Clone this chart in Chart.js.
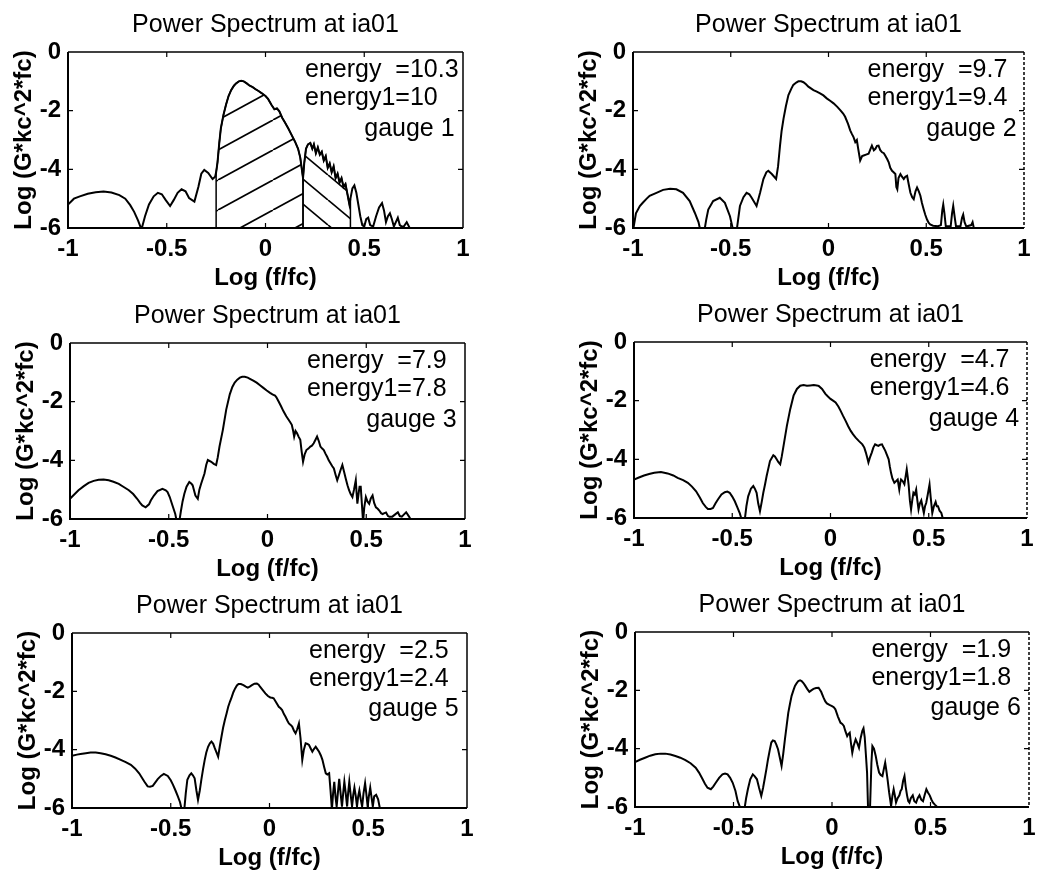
<!DOCTYPE html>
<html>
<head>
<meta charset="utf-8">
<script src="https://cdn.jsdelivr.net/npm/chart.js@4/dist/chart.umd.min.js"></script>
<style>
html,body{margin:0;padding:0;background:#fff;width:1045px;height:888px;overflow:hidden;}
canvas{position:absolute;}
</style>
</head>
<body>
<script>
// ---------- text ----------
const titleText = 'Power Spectrum at ia01';
const xAxisTitle = 'Log (f/fc)';
const yAxisTitle = 'Log (G*kc^2*fc)';
const xTicks = [-1, -0.5, 0, 0.5, 1];
const yTicks = [-6, -4, -2, 0];
const energyLabels = ['energy  =10.3', 'energy  =9.7', 'energy  =7.9', 'energy  =4.7', 'energy  =2.5', 'energy  =1.9'];
const energy1Labels = ['energy1=10', 'energy1=9.4', 'energy1=7.8', 'energy1=4.6', 'energy1=2.4', 'energy1=1.8'];
const gaugeLabels = ['gauge 1', 'gauge 2', 'gauge 3', 'gauge 4', 'gauge 5', 'gauge 6'];

// ---------- data: log(f/fc) and log spectrum ----------
const x1 = [-1.0,-0.97,-0.94,-0.90,-0.86,-0.82,-0.78,-0.74,-0.71,-0.685,
-0.665,-0.645,-0.628,-0.61,-0.59,-0.566,-0.545,-0.525,-0.505,-0.483,
-0.465,-0.445,-0.425,-0.405,-0.387,-0.36,-0.34,-0.325,-0.31,-0.29,
-0.268,-0.255,-0.25,-0.243,-0.234,-0.226,-0.213,-0.2,-0.187,-0.174,
-0.16,-0.149,-0.135,-0.123,-0.11,-0.095,-0.08,-0.065,-0.05,-0.035,
-0.02,0.0,0.013,0.03,0.045,0.058,0.07,0.085,0.1,0.115,
0.13,0.149,0.165,0.176,0.183,0.19,0.196,0.205,0.215,0.227,
0.237,0.245,0.255,0.265,0.275,0.285,0.295,0.305,0.315,0.325,
0.335,0.345,0.355,0.365,0.375,0.385,0.395,0.405,0.415,0.425,
0.43,0.44,0.45,0.46,0.47,0.48,0.49,0.5,0.51,0.52,
0.53,0.545,0.56,0.575,0.59,0.6,0.61,0.62,0.63,0.64,
0.65,0.66,0.67,0.68,0.69,0.7,0.715,0.73,0.75,1.0];
const y1 = [-5.2,-5.0,-4.92,-4.83,-4.78,-4.76,-4.79,-4.88,-5.0,-5.22,
-5.45,-5.75,-6.05,-5.6,-5.2,-4.92,-4.8,-4.85,-5.05,-5.25,
-5.05,-4.8,-4.68,-4.75,-4.98,-5.1,-4.6,-4.15,-4.02,-4.12,
-4.33,-4.25,-4.1,-3.76,-3.1,-2.6,-2.15,-1.8,-1.5,-1.3,
-1.15,-1.07,-1.0,-0.98,-1.0,-1.07,-1.15,-1.2,-1.27,-1.33,
-1.4,-1.5,-1.6,-1.8,-1.95,-1.92,-2.02,-2.25,-2.42,-2.6,
-2.8,-3.05,-3.3,-3.6,-3.95,-4.3,-3.8,-3.3,-3.15,-3.1,
-3.3,-3.15,-3.45,-3.25,-3.5,-3.4,-3.7,-3.55,-3.95,-3.8,
-4.1,-3.9,-4.3,-4.15,-4.45,-4.3,-4.6,-4.5,-4.85,-5.2,
-5.0,-4.65,-4.55,-4.8,-5.2,-5.6,-5.9,-5.95,-5.7,-5.65,
-5.9,-5.95,-5.6,-5.3,-5.15,-5.4,-5.8,-5.6,-5.5,-5.7,
-5.95,-5.8,-5.65,-5.9,-5.95,-5.95,-5.8,-6.0,-6.05,-6.05];
const hatchBounds1 = [-0.25, 0.19, 0.43];

const x2 = [-1.0,-0.985,-0.965,-0.95,-0.93,-0.915,-0.88,-0.846,-0.81,-0.778,
-0.744,-0.71,-0.684,-0.665,-0.655,-0.635,-0.625,-0.615,-0.59,-0.556,
-0.53,-0.504,-0.487,-0.47,-0.453,-0.435,-0.419,-0.405,-0.393,-0.368,
-0.35,-0.333,-0.318,-0.308,-0.29,-0.268,-0.258,-0.248,-0.24,-0.23,
-0.218,-0.205,-0.19,-0.18,-0.165,-0.154,-0.14,-0.128,-0.115,-0.103,
-0.09,-0.077,-0.06,-0.043,-0.026,-0.009,0.01,0.026,0.045,0.06,
0.075,0.085,0.1,0.111,0.12,0.128,0.137,0.145,0.152,0.162,
0.172,0.18,0.192,0.205,0.215,0.222,0.232,0.24,0.248,0.256,
0.265,0.274,0.283,0.29,0.3,0.308,0.316,0.325,0.333,0.342,
0.347,0.352,0.358,0.368,0.376,0.385,0.393,0.402,0.41,0.419,
0.428,0.436,0.445,0.453,0.462,0.47,0.478,0.487,0.495,0.504,
0.512,0.52,0.535,0.56,0.575,0.582,0.587,0.593,0.6,0.625,
0.632,0.638,0.645,0.652,0.675,0.683,0.689,0.696,0.705,0.73,
0.737,0.745,1.0];
const y2 = [-6.1,-5.5,-5.25,-5.14,-5.0,-4.9,-4.8,-4.7,-4.66,-4.68,
-4.8,-5.08,-5.48,-5.8,-6.1,-6.1,-5.7,-5.37,-5.08,-4.97,
-5.14,-5.6,-6.1,-6.1,-5.25,-4.95,-4.8,-4.85,-4.97,-5.25,
-4.8,-4.33,-4.1,-4.05,-4.16,-4.33,-3.9,-3.19,-2.7,-2.27,
-1.85,-1.47,-1.25,-1.12,-1.04,-1.0,-1.0,-1.03,-1.1,-1.18,
-1.24,-1.3,-1.35,-1.41,-1.48,-1.58,-1.67,-1.75,-1.87,-1.98,
-2.1,-2.21,-2.45,-2.67,-2.8,-2.9,-3.07,-3.0,-3.3,-3.7,
-3.55,-3.53,-3.5,-3.47,-3.3,-3.19,-3.35,-3.3,-3.2,-3.19,
-3.35,-3.42,-3.45,-3.53,-3.65,-3.76,-3.95,-4.05,-4.1,-4.16,
-4.6,-4.68,-4.3,-4.16,-4.25,-4.33,-4.25,-4.22,-4.5,-4.8,
-4.95,-5.02,-4.75,-4.62,-4.75,-4.9,-5.15,-5.37,-5.55,-5.71,
-5.82,-5.88,-5.92,-5.94,-5.9,-5.4,-5.2,-5.5,-5.94,-5.94,
-5.5,-5.25,-5.6,-5.94,-5.94,-5.65,-5.54,-5.8,-5.95,-5.9,
-5.8,-6.05,-6.05];

const x3 = [-1.0,-0.957,-0.93,-0.906,-0.88,-0.855,-0.83,-0.804,-0.78,-0.753,
-0.73,-0.702,-0.68,-0.66,-0.645,-0.634,-0.617,-0.6,-0.591,-0.575,
-0.557,-0.532,-0.515,-0.506,-0.495,-0.484,-0.467,-0.459,-0.447,-0.438,
-0.43,-0.421,-0.41,-0.396,-0.385,-0.379,-0.365,-0.353,-0.345,-0.336,
-0.319,-0.31,-0.302,-0.285,-0.272,-0.26,-0.252,-0.243,-0.226,-0.209,
-0.191,-0.178,-0.166,-0.153,-0.14,-0.128,-0.115,-0.1,-0.089,-0.072,
-0.055,-0.038,-0.021,-0.004,0.013,0.025,0.038,0.045,0.055,0.068,
0.081,0.095,0.106,0.115,0.123,0.13,0.135,0.142,0.149,0.158,
0.166,0.173,0.18,0.188,0.197,0.207,0.217,0.225,0.234,0.243,
0.251,0.26,0.268,0.277,0.285,0.294,0.302,0.31,0.319,0.328,
0.336,0.345,0.353,0.362,0.37,0.379,0.388,0.396,0.405,0.413,
0.421,0.43,0.438,0.447,0.451,0.455,0.462,0.466,0.472,0.478,
0.484,0.49,0.498,0.506,0.515,0.523,0.532,0.54,0.549,0.558,
0.566,0.575,0.583,0.592,0.6,0.61,0.617,0.632,0.645,0.66,
0.67,0.68,0.69,0.702,0.715,0.728,1.0];
const y3 = [-5.31,-5.02,-4.88,-4.77,-4.7,-4.66,-4.65,-4.68,-4.73,-4.8,
-4.9,-5.02,-5.15,-5.31,-5.45,-5.54,-5.6,-5.5,-5.37,-5.2,
-5.05,-4.97,-5.02,-5.08,-5.25,-5.48,-5.83,-6.1,-6.1,-5.71,
-5.4,-5.14,-4.9,-4.74,-4.8,-4.85,-5.2,-5.31,-5.0,-4.8,
-4.45,-4.15,-3.99,-4.05,-4.12,-4.16,-3.9,-3.53,-2.96,-2.27,
-1.75,-1.5,-1.35,-1.25,-1.18,-1.15,-1.15,-1.18,-1.22,-1.28,
-1.35,-1.44,-1.53,-1.62,-1.7,-1.75,-1.79,-1.85,-1.98,-2.15,
-2.33,-2.5,-2.61,-2.7,-2.79,-3.0,-3.19,-3.0,-3.07,-3.2,
-3.3,-3.7,-4.05,-3.8,-3.65,-3.6,-3.53,-3.5,-3.42,-3.3,
-3.19,-3.35,-3.53,-3.6,-3.65,-3.78,-3.88,-4.0,-4.1,-4.2,
-4.28,-4.5,-4.68,-4.5,-4.33,-4.16,-4.4,-4.62,-4.85,-5.02,
-5.15,-5.25,-5.0,-4.68,-5.1,-5.48,-5.1,-4.9,-4.9,-5.5,
-6.1,-5.6,-5.25,-5.4,-5.48,-5.3,-5.2,-5.45,-5.6,-5.65,
-5.71,-5.8,-5.83,-5.8,-5.78,-5.9,-5.92,-5.92,-5.85,-5.77,
-5.9,-5.92,-5.85,-5.77,-5.9,-6.05,-6.05];

const x4 = [-1.0,-0.975,-0.949,-0.923,-0.897,-0.863,-0.829,-0.8,-0.778,-0.75,
-0.726,-0.705,-0.684,-0.665,-0.65,-0.635,-0.624,-0.61,-0.598,-0.585,
-0.573,-0.555,-0.538,-0.525,-0.513,-0.5,-0.487,-0.475,-0.462,-0.45,
-0.437,-0.428,-0.419,-0.405,-0.393,-0.385,-0.376,-0.368,-0.359,-0.35,
-0.342,-0.333,-0.325,-0.316,-0.308,-0.291,-0.283,-0.274,-0.265,-0.256,
-0.248,-0.239,-0.222,-0.205,-0.188,-0.171,-0.154,-0.137,-0.12,-0.103,
-0.085,-0.07,-0.06,-0.043,-0.026,-0.013,0.0,0.013,0.026,0.04,
0.051,0.064,0.077,0.09,0.103,0.115,0.128,0.145,0.162,0.172,
0.18,0.187,0.193,0.2,0.21,0.218,0.227,0.236,0.244,0.253,
0.262,0.27,0.279,0.287,0.296,0.302,0.308,0.315,0.325,0.333,
0.342,0.35,0.355,0.359,0.368,0.376,0.382,0.388,0.393,0.398,
0.404,0.41,0.416,0.422,0.429,0.436,0.442,0.448,0.455,0.462,
0.468,0.475,0.481,0.487,0.495,0.504,0.51,0.518,0.526,0.535,
0.541,0.547,0.555,0.564,0.573,1.0];
const y4 = [-4.69,-4.62,-4.55,-4.5,-4.46,-4.43,-4.48,-4.55,-4.63,-4.71,
-4.8,-4.93,-5.09,-5.3,-5.49,-5.62,-5.69,-5.69,-5.66,-5.5,
-5.37,-5.2,-5.12,-5.1,-5.14,-5.27,-5.43,-5.62,-5.83,-6.1,
-6.1,-5.6,-5.26,-5.0,-4.91,-5.0,-5.14,-5.5,-5.77,-5.45,
-5.14,-4.85,-4.57,-4.3,-4.06,-3.86,-3.9,-4.0,-4.1,-4.17,
-3.9,-3.54,-2.86,-2.29,-1.83,-1.6,-1.49,-1.47,-1.49,-1.48,
-1.47,-1.48,-1.5,-1.6,-1.77,-1.86,-1.94,-2.0,-2.06,-2.2,
-2.34,-2.52,-2.69,-2.87,-3.03,-3.15,-3.26,-3.38,-3.49,-3.6,
-3.77,-3.95,-4.11,-3.95,-3.77,-3.6,-3.49,-3.52,-3.54,-3.5,
-3.49,-3.6,-3.71,-3.85,-4.0,-4.25,-4.46,-4.65,-4.8,-4.75,
-4.69,-5.03,-4.8,-4.69,-4.75,-4.85,-4.6,-4.34,-4.6,-4.9,
-5.4,-5.71,-5.4,-5.14,-5.2,-5.03,-5.4,-5.71,-5.5,-5.4,
-5.6,-5.83,-5.6,-5.49,-5.2,-4.86,-5.3,-5.83,-5.6,-5.45,
-5.6,-5.6,-5.75,-5.83,-6.05,-6.05];

const x5 = [-1.0,-0.975,-0.957,-0.93,-0.906,-0.88,-0.855,-0.83,-0.804,-0.78,
-0.753,-0.728,-0.702,-0.68,-0.66,-0.645,-0.634,-0.617,-0.605,-0.591,
-0.578,-0.566,-0.55,-0.535,-0.515,-0.5,-0.489,-0.476,-0.464,-0.453,
-0.443,-0.432,-0.424,-0.416,-0.405,-0.396,-0.388,-0.379,-0.37,-0.362,
-0.353,-0.345,-0.336,-0.328,-0.32,-0.311,-0.302,-0.294,-0.285,-0.277,
-0.268,-0.26,-0.252,-0.243,-0.235,-0.226,-0.217,-0.209,-0.2,-0.191,
-0.183,-0.174,-0.165,-0.157,-0.145,-0.132,-0.12,-0.11,-0.1,-0.089,
-0.076,-0.064,-0.055,-0.047,-0.034,-0.021,-0.008,0.004,0.013,0.021,
0.034,0.047,0.056,0.064,0.073,0.081,0.09,0.098,0.107,0.115,
0.124,0.132,0.14,0.149,0.157,0.166,0.174,0.183,0.192,0.2,
0.208,0.217,0.225,0.234,0.242,0.251,0.26,0.268,0.277,0.285,
0.293,0.302,0.309,0.316,0.322,0.328,0.334,0.34,0.346,0.353,
0.36,0.367,0.373,0.379,0.386,0.393,0.398,0.404,0.411,0.418,
0.424,0.43,0.437,0.443,0.449,0.455,0.462,0.469,0.476,0.484,
0.49,0.497,0.503,0.51,0.516,0.523,0.53,0.54,0.55,0.56,
1.0];
const y5 = [-4.21,-4.17,-4.15,-4.12,-4.1,-4.1,-4.12,-4.16,-4.21,-4.27,
-4.35,-4.43,-4.52,-4.65,-4.81,-4.97,-5.09,-5.26,-5.27,-5.24,
-5.12,-5.01,-4.9,-4.83,-4.9,-5.05,-5.2,-5.4,-5.6,-5.8,
-6.1,-6.1,-5.5,-5.03,-4.88,-4.81,-4.88,-4.98,-5.4,-5.72,
-5.4,-5.03,-4.65,-4.35,-4.1,-3.9,-3.78,-3.72,-3.8,-3.95,
-4.1,-4.24,-3.9,-3.55,-3.25,-2.98,-2.75,-2.53,-2.35,-2.19,
-2.03,-1.9,-1.8,-1.75,-1.75,-1.79,-1.84,-1.87,-1.84,-1.79,
-1.74,-1.73,-1.77,-1.85,-1.96,-2.07,-2.16,-2.21,-2.22,-2.24,
-2.38,-2.53,-2.58,-2.64,-2.78,-2.87,-3.0,-3.1,-3.15,-3.21,
-3.35,-3.44,-3.3,-3.1,-3.6,-4.35,-4.0,-3.78,-3.8,-3.84,
-3.95,-4.07,-3.98,-3.9,-3.98,-4.07,-4.2,-4.35,-4.6,-4.81,
-4.85,-4.81,-5.4,-6.05,-5.5,-5.1,-5.6,-5.95,-5.5,-5.0,
-5.5,-5.95,-5.5,-5.1,-5.5,-5.95,-5.5,-5.1,-5.55,-5.95,
-5.55,-5.3,-5.6,-5.95,-5.6,-5.4,-5.7,-5.95,-5.5,-5.15,
-5.5,-5.95,-5.6,-5.3,-5.6,-5.95,-5.6,-5.55,-5.7,-6.05,
-6.05];

const x6 = [-1.0,-0.975,-0.949,-0.923,-0.897,-0.87,-0.846,-0.82,-0.795,-0.77,
-0.744,-0.718,-0.692,-0.675,-0.658,-0.645,-0.632,-0.615,-0.603,-0.59,
-0.573,-0.556,-0.543,-0.53,-0.517,-0.504,-0.49,-0.479,-0.462,-0.445,
-0.436,-0.427,-0.415,-0.402,-0.392,-0.381,-0.37,-0.359,-0.35,-0.342,
-0.333,-0.325,-0.316,-0.308,-0.3,-0.291,-0.283,-0.274,-0.265,-0.256,
-0.248,-0.239,-0.23,-0.222,-0.213,-0.205,-0.196,-0.188,-0.179,-0.171,
-0.162,-0.154,-0.145,-0.137,-0.126,-0.115,-0.105,-0.094,-0.081,-0.068,
-0.055,-0.043,-0.034,-0.026,-0.013,0.0,0.009,0.017,0.03,0.043,
0.052,0.06,0.068,0.077,0.083,0.09,0.096,0.103,0.11,0.12,
0.128,0.137,0.145,0.154,0.16,0.166,0.172,0.178,0.183,0.193,
0.2,0.205,0.213,0.222,0.23,0.239,0.247,0.256,0.263,0.27,
0.276,0.282,0.29,0.3,0.307,0.313,0.319,0.325,0.333,0.342,
0.348,0.354,0.361,0.368,0.374,0.381,0.387,0.393,0.4,0.41,
0.418,0.427,0.435,0.444,0.453,0.462,0.47,0.479,0.487,0.496,
0.505,0.513,0.522,0.53,0.54,1.0];
const y6 = [-4.46,-4.38,-4.31,-4.24,-4.19,-4.17,-4.17,-4.2,-4.25,-4.31,
-4.39,-4.5,-4.65,-4.82,-5.03,-5.2,-5.34,-5.39,-5.3,-5.17,
-5.0,-4.88,-4.85,-4.88,-5.0,-5.17,-5.45,-5.79,-6.1,-6.1,
-5.7,-5.39,-5.05,-4.88,-4.95,-5.05,-5.35,-5.62,-5.35,-5.05,
-4.7,-4.37,-4.05,-3.79,-3.72,-3.74,-3.85,-4.02,-4.3,-4.59,
-4.2,-3.68,-3.2,-2.77,-2.45,-2.19,-2.0,-1.85,-1.75,-1.68,
-1.66,-1.68,-1.75,-1.83,-1.95,-2.05,-2.0,-1.95,-1.92,-1.91,
-2.05,-2.25,-2.38,-2.45,-2.5,-2.54,-2.58,-2.65,-2.9,-3.11,
-3.15,-3.22,-3.4,-3.57,-3.5,-3.45,-3.8,-4.14,-3.9,-3.68,
-3.8,-3.97,-3.65,-3.39,-3.3,-3.6,-4.2,-4.82,-6.05,-6.05,
-4.5,-3.91,-4.0,-4.25,-4.55,-4.82,-4.9,-4.94,-4.7,-4.48,
-4.75,-5.05,-5.5,-5.97,-5.6,-5.39,-5.6,-5.85,-5.7,-5.6,
-5.45,-5.39,-5.1,-4.94,-5.3,-5.6,-5.8,-5.85,-5.7,-5.6,
-5.8,-5.85,-5.7,-5.6,-5.75,-5.8,-5.6,-5.39,-5.5,-5.6,
-5.75,-5.85,-5.92,-5.97,-6.05,-6.05];

const seriesX = [x1, x2, x3, x4, x5, x6];
const seriesY = [y1, y2, y3, y4, y5, y6];

// ---------- layout (plot-area boxes: left, top, right, bottom) ----------
const panelBoxes = [[68,52,463,228],[633,52,1024,228],[70,343,465,519],[634,342,1027,518],[72,633,467,808],[635,632,1029,807]];
const FONT = '"Liberation Sans", Arial, Helvetica, sans-serif';
const PAD_L = 70, PAD_T = 52, PAD_R = 14, PAD_B = 68;

function makeHatch(w, h, rising) {
  const c = document.createElement('canvas');
  c.width = w; c.height = h;
  const g = c.getContext('2d');
  g.strokeStyle = '#000'; g.lineWidth = 1.7;
  for (const dx of [-w, 0, w]) {
    g.beginPath();
    if (rising) { g.moveTo(dx, h); g.lineTo(dx + w, 0); }
    else { g.moveTo(dx, 0); g.lineTo(dx + w, h); }
    g.stroke();
  }
  return g.createPattern(c, 'repeat');
}

function region(xs, ys, a, b) {
  const pts = [{x: a, y: -6}];
  xs.forEach((x, k) => { if (x >= a && x <= b) pts.push({x, y: ys[k]}); });
  pts.push({x: b, y: -6});
  return pts;
}

const decor = {
  id: 'decor',
  afterDatasetsDraw(chart, args, opts) {
    const {ctx, chartArea: a, scales: {x, y}} = chart;
    const i = opts.idx;
    ctx.save();
    ctx.strokeStyle = '#000';
    ctx.lineWidth = 2;
    ctx.beginPath(); ctx.moveTo(a.left, a.top); ctx.lineTo(a.left, a.bottom); ctx.lineTo(a.right, a.bottom); ctx.stroke();
    ctx.lineWidth = 1.5;
    ctx.beginPath(); ctx.moveTo(a.left, a.top); ctx.lineTo(a.right, a.top); ctx.stroke();
    ctx.setLineDash(opts.dashed ? [3, 2] : []);
    ctx.beginPath(); ctx.moveTo(a.right, a.top); ctx.lineTo(a.right, a.bottom); ctx.stroke();
    ctx.setLineDash([]);
    ctx.lineWidth = 1.2;
    ctx.beginPath();
    xTicks.slice(1, -1).forEach(v => {
      const px = x.getPixelForValue(v);
      ctx.moveTo(px, a.bottom); ctx.lineTo(px, a.bottom - 5);
      ctx.moveTo(px, a.top); ctx.lineTo(px, a.top + 5);
    });
    yTicks.slice(1, -1).forEach(v => {
      const py = y.getPixelForValue(v);
      ctx.moveTo(a.left, py); ctx.lineTo(a.left + 5, py);
      ctx.moveTo(a.right, py); ctx.lineTo(a.right - 5, py);
    });
    ctx.stroke();
    ctx.fillStyle = '#000';
    ctx.font = '25px ' + FONT;
    ctx.textAlign = 'left';
    ctx.textBaseline = 'alphabetic';
    ctx.fillText(energyLabels[i], x.getPixelForValue(0.2), y.getPixelForValue(-0.85));
    ctx.fillText(energy1Labels[i], x.getPixelForValue(0.2), y.getPixelForValue(-1.8));
    ctx.fillText(gaugeLabels[i], x.getPixelForValue(0.5), y.getPixelForValue(-2.85));
    ctx.restore();
  }
};

panelBoxes.forEach((box, i) => {
  const [L, T, R, B] = box;
  const cv = document.createElement('canvas');
  const W = (R - L) + PAD_L + PAD_R, H = (B - T) + PAD_T + PAD_B;
  cv.width = W; cv.height = H;
  cv.style.left = (L - PAD_L) + 'px';
  cv.style.top = (T - PAD_T) + 'px';
  cv.style.width = W + 'px'; cv.style.height = H + 'px';
  document.body.appendChild(cv);

  const xs = seriesX[i], ys = seriesY[i];
  const datasets = [{
    data: xs.map((x, k) => ({x, y: ys[k]})),
    borderColor: '#000', borderWidth: 2, pointRadius: 0, tension: 0, fill: false, order: 0
  }];
  if (i === 0) {
    datasets.push({
      data: region(xs, ys, hatchBounds1[0], hatchBounds1[1]),
      borderColor: '#000', borderWidth: 1.5, pointRadius: 0, tension: 0,
      fill: 'start', backgroundColor: makeHatch(55, 30, true), order: 1
    });
    datasets.push({
      data: region(xs, ys, hatchBounds1[1], hatchBounds1[2]),
      borderColor: '#000', borderWidth: 1.5, pointRadius: 0, tension: 0,
      fill: 'start', backgroundColor: makeHatch(30, 25, false), order: 1
    });
  }

  new Chart(cv, {
    type: 'line',
    data: {datasets},
    plugins: [decor],
    options: {
      responsive: false, animation: false, devicePixelRatio: 1,
      layout: {padding: {right: PAD_R}},
      plugins: {
        legend: {display: false},
        tooltip: {enabled: false},
        decor: {idx: i, dashed: i % 2 === 1},
        title: {
          display: true, text: titleText, fullSize: false, color: '#000',
          font: {family: FONT, size: 25, weight: 'normal', lineHeight: 1.2},
          padding: {top: 10, bottom: PAD_T - 10 - 30}
        }
      },
      scales: {
        x: {
          type: 'linear', min: -1, max: 1,
          afterBuildTicks: s => { s.ticks = xTicks.map(v => ({value: v})); },
          afterFit: s => { s.height = PAD_B; },
          grid: {display: false, drawTicks: false},
          border: {display: false},
          ticks: {color: '#000', font: {family: FONT, size: 24, weight: 'bold'}, padding: 7,
                  maxRotation: 0, autoSkip: false, callback: v => String(v)},
          title: {display: true, text: xAxisTitle, color: '#000',
                  font: {family: FONT, size: 24, weight: 'bold', lineHeight: 1.2},
                  padding: {top: 0, bottom: 3}}
        },
        y: {
          type: 'linear', min: -6, max: 0,
          afterBuildTicks: s => { s.ticks = yTicks.map(v => ({value: v})); },
          afterFit: s => { s.width = PAD_L; },
          grid: {display: false, drawTicks: false},
          border: {display: false},
          ticks: {color: '#000', font: {family: FONT, size: 24, weight: 'bold'}, padding: 7,
                  callback: v => String(v)},
          title: {display: true, text: yAxisTitle, color: '#000',
                  font: {family: FONT, size: 24, weight: 'bold', lineHeight: 1.2},
                  padding: {top: 12, bottom: 0}}
        }
      }
    }
  });
});
</script>
</body>
</html>
